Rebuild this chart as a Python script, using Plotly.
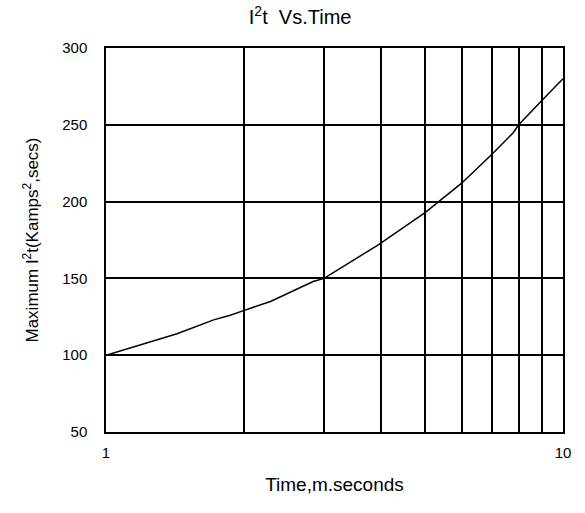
import plotly.graph_objects as go

time_ms = [1, 1.43, 1.72, 1.87, 2, 2.29, 2.84, 3, 3.95, 5, 6, 6.47, 7, 7.79, 8, 9, 10]
i2t = [100, 114, 123, 126, 129, 135, 148, 150, 172, 193, 212, 221, 231, 245, 250, 266, 280]
y_ticks = [50, 100, 150, 200, 250, 300]
x_ticks = [1, 10]
x_minor = [2, 3, 4, 5, 6, 7, 8, 9]

font = "Liberation Sans, Arial, sans-serif"

fig = go.Figure(go.Scatter(x=time_ms, y=i2t, mode="lines",
                           line=dict(color="black", width=1.5), showlegend=False))

fig.update_layout(
    width=585, height=513,
    margin=dict(l=106, r=22, t=48, b=81),
    plot_bgcolor="white", paper_bgcolor="white",
    font=dict(family=font, size=15, color="black"),
    title=dict(text="I<sup>2</sup>t  Vs.Time", x=0.513, xanchor="center", y=0.967, yanchor="middle",
               font=dict(size=20, family=font)),
)
fig.update_xaxes(
    type="log", range=[0, 1], tickvals=x_ticks, ticktext=["1", "10"],
    showgrid=True, gridcolor="black", gridwidth=1.5,
    minor=dict(tickvals=x_minor, showgrid=True, gridcolor="black", gridwidth=1.5, ticks=""),
    showline=True, linecolor="black", linewidth=1.5, mirror=True,
    ticks="", ticklabelstandoff=6,
    title=dict(text="Time,m.seconds", font=dict(size=19), standoff=18),
    tickfont=dict(size=15),
)
fig.update_yaxes(
    range=[50, 300], tickvals=y_ticks,
    showgrid=True, gridcolor="black", gridwidth=1.5,
    showline=True, linecolor="black", linewidth=1.5, mirror=True,
    ticks="", ticklabelstandoff=14,
    title=dict(text="Maximum I<sup>2</sup>t(Kamps<sup>2</sup>,secs)", font=dict(size=17), standoff=19),
    tickfont=dict(size=15),
)

fig.write_html("out.html", config={"displayModeBar": False},
               post_script="document.body.style.margin='0px';")
